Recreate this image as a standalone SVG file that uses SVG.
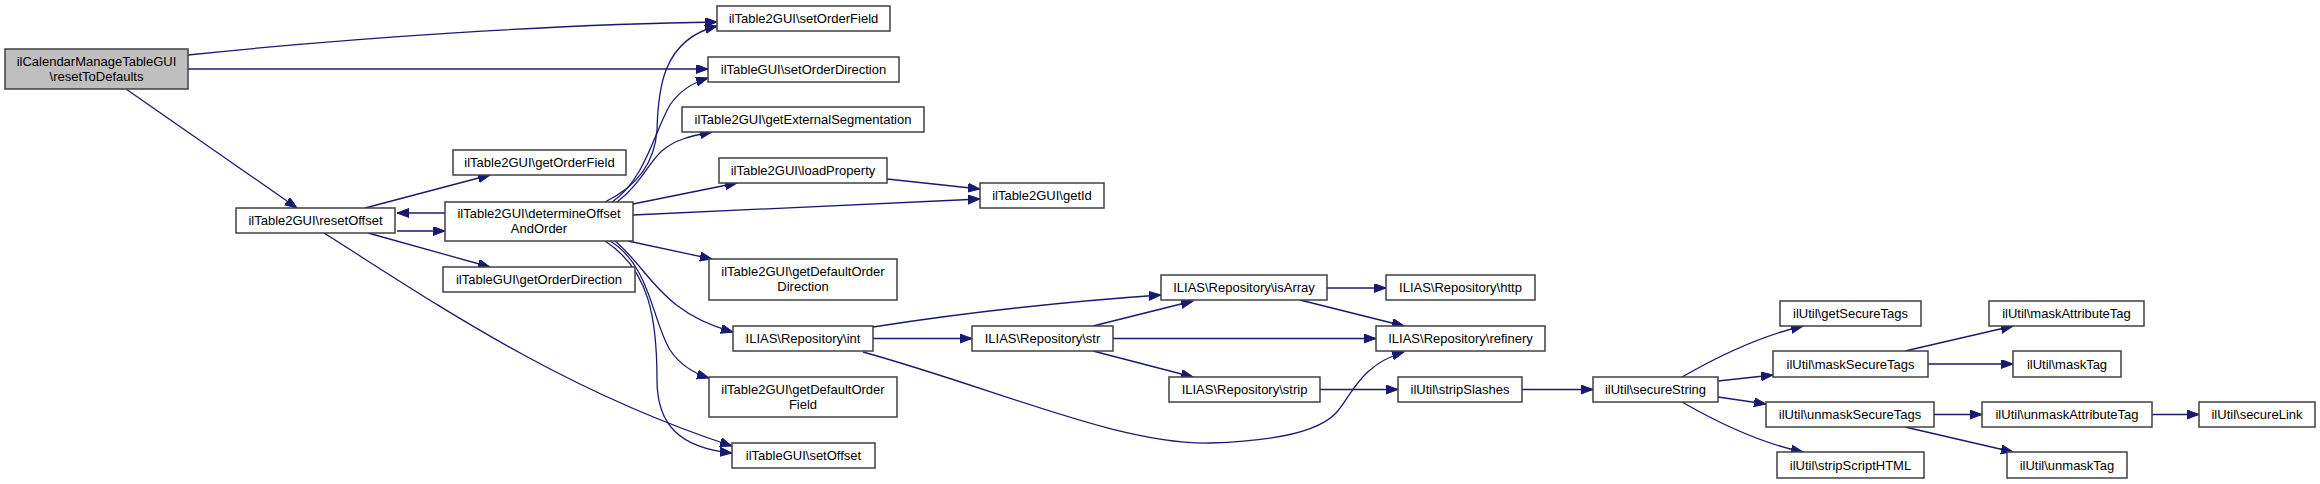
<svg xmlns="http://www.w3.org/2000/svg" width="2320" height="484" viewBox="0 0 2320 484">
<style>
.n rect{fill:#ffffff;stroke:#404040;stroke-width:1.5}
.n text{font-family:"Liberation Sans",Arial,Helvetica,sans-serif;font-size:13px;fill:#000;text-anchor:middle}
#root rect{fill:#bfbfbf}
.e path{fill:none;stroke:#191970;stroke-width:1.3;marker-end:url(#a)}
</style>
<defs>
<marker id="a" markerUnits="userSpaceOnUse" markerWidth="13" markerHeight="10" refX="12" refY="4.5" orient="auto">
<path d="M0,0 L12,4.5 L0,9 z" fill="#191970" stroke="#191970" stroke-width="1"/>
</marker>
</defs>
<rect width="2320" height="484" fill="#ffffff"/>
<g id="edges" class="e">
<path d="M188,55 C350,38 560,24 717,22"/>
<path d="M188,69 L708,69"/>
<path d="M126,89 L297,208"/>
<path d="M365,208 L490,175"/>
<path d="M445,213 L397,213"/>
<path d="M397,231 L445,231"/>
<path d="M368,233 L490,267"/>
<path d="M324,233 C430,300 560,390 732,446"/>
<path d="M605,202 C640,185 655,160 657,130 C658,90 662,40 717,26"/>
<path d="M612,202 C645,180 655,130 670,105 C680,90 695,82 708,78"/>
<path d="M617,202 C640,185 650,160 663,150 C675,140 690,136 712,132"/>
<path d="M633,204 L737,183"/>
<path d="M633,215 L980,199"/>
<path d="M887,179 L980,189"/>
<path d="M628,241 L712,259"/>
<path d="M615,241 C650,270 660,312 733,332"/>
<path d="M610,241 C650,265 652,320 670,350 C680,365 693,373 709,378"/>
<path d="M605,241 C650,270 657,320 657,380 C657,425 680,448 732,453"/>
<path d="M873,338.5 L972,338.5"/>
<path d="M873,327 C950,315 1060,302 1161,295"/>
<path d="M863,352 C1000,390 1120,445 1210,443 C1280,441 1320,430 1336,413 C1352,395 1360,365 1404,352"/>
<path d="M1093,326 L1193,301"/>
<path d="M1113,338.5 L1376,338.5"/>
<path d="M1093,351 L1193,377"/>
<path d="M1327,288 L1386,288"/>
<path d="M1300,300 L1404,326"/>
<path d="M1320,389.5 L1398,389.5"/>
<path d="M1522,389.5 L1593,389.5"/>
<path d="M1682,377 C1715,358 1760,336 1803,326"/>
<path d="M1718,381 L1773,375"/>
<path d="M1718,397 L1766,404"/>
<path d="M1682,402 C1715,421 1760,443 1803,452"/>
<path d="M1905,351 L2013,326"/>
<path d="M1928,364 L2013,364"/>
<path d="M1934,414.5 L1982,414.5"/>
<path d="M1905,427 L2013,452"/>
<path d="M2152,414.5 L2199,414.5"/>
</g>
<g id="root" class="n"><rect x="5" y="49" width="183" height="40"/><text x="96.5" y="65.5">ilCalendarManageTableGUI</text><text x="96.5" y="80.5">\resetToDefaults</text></g>
<g id="resetOffset" class="n"><rect x="236" y="208" width="159" height="25"/><text x="315.5" y="225">ilTable2GUI\resetOffset</text></g>
<g id="getOrderField" class="n"><rect x="453" y="150" width="173" height="25"/><text x="539.5" y="167">ilTable2GUI\getOrderField</text></g>
<g id="determineOffsetAndOrder" class="n"><rect x="445" y="202" width="188" height="39"/><text x="539" y="217.5">ilTable2GUI\determineOffset</text><text x="539" y="232.5">AndOrder</text></g>
<g id="getOrderDirection" class="n"><rect x="443" y="267" width="192" height="25"/><text x="539" y="284">ilTableGUI\getOrderDirection</text></g>
<g id="setOrderField" class="n"><rect x="717" y="6" width="173" height="25"/><text x="803.5" y="23">ilTable2GUI\setOrderField</text></g>
<g id="setOrderDirection" class="n"><rect x="708" y="57" width="191" height="25"/><text x="803.5" y="74">ilTableGUI\setOrderDirection</text></g>
<g id="getExternalSegmentation" class="n"><rect x="682" y="107" width="242" height="25"/><text x="803" y="124">ilTable2GUI\getExternalSegmentation</text></g>
<g id="loadProperty" class="n"><rect x="719" y="158" width="168" height="25"/><text x="803" y="175">ilTable2GUI\loadProperty</text></g>
<g id="getId" class="n"><rect x="980" y="183" width="124" height="25"/><text x="1042" y="200">ilTable2GUI\getId</text></g>
<g id="getDefaultOrderDirection" class="n"><rect x="709" y="259" width="188" height="41"/><text x="803" y="276">ilTable2GUI\getDefaultOrder</text><text x="803" y="291">Direction</text></g>
<g id="int" class="n"><rect x="733" y="326" width="140" height="25"/><text x="803" y="343">ILIAS\Repository\int</text></g>
<g id="getDefaultOrderField" class="n"><rect x="709" y="377" width="188" height="40"/><text x="803" y="393.5">ilTable2GUI\getDefaultOrder</text><text x="803" y="408.5">Field</text></g>
<g id="setOffset" class="n"><rect x="732" y="443" width="143" height="25"/><text x="803.5" y="460">ilTableGUI\setOffset</text></g>
<g id="str" class="n"><rect x="972" y="326" width="141" height="25"/><text x="1042.5" y="343">ILIAS\Repository\str</text></g>
<g id="isArray" class="n"><rect x="1161" y="275" width="166" height="25"/><text x="1244" y="292">ILIAS\Repository\isArray</text></g>
<g id="http" class="n"><rect x="1386" y="275" width="149" height="25"/><text x="1460.5" y="292">ILIAS\Repository\http</text></g>
<g id="refinery" class="n"><rect x="1376" y="326" width="169" height="25"/><text x="1460.5" y="343">ILIAS\Repository\refinery</text></g>
<g id="strip" class="n"><rect x="1169" y="377" width="151" height="25"/><text x="1244.5" y="394">ILIAS\Repository\strip</text></g>
<g id="stripSlashes" class="n"><rect x="1398" y="377" width="124" height="25"/><text x="1460" y="394">ilUtil\stripSlashes</text></g>
<g id="secureString" class="n"><rect x="1593" y="377" width="125" height="25"/><text x="1655.5" y="394">ilUtil\secureString</text></g>
<g id="getSecureTags" class="n"><rect x="1780" y="301" width="141" height="25"/><text x="1850.5" y="318">ilUtil\getSecureTags</text></g>
<g id="maskSecureTags" class="n"><rect x="1773" y="351" width="155" height="26"/><text x="1850.5" y="368.5">ilUtil\maskSecureTags</text></g>
<g id="unmaskSecureTags" class="n"><rect x="1766" y="402" width="168" height="25"/><text x="1850" y="419">ilUtil\unmaskSecureTags</text></g>
<g id="stripScriptHTML" class="n"><rect x="1777" y="452" width="147" height="26"/><text x="1850.5" y="469.5">ilUtil\stripScriptHTML</text></g>
<g id="maskAttributeTag" class="n"><rect x="1989" y="301" width="155" height="25"/><text x="2066.5" y="318">ilUtil\maskAttributeTag</text></g>
<g id="maskTag" class="n"><rect x="2013" y="351" width="108" height="26"/><text x="2067" y="368.5">ilUtil\maskTag</text></g>
<g id="unmaskAttributeTag" class="n"><rect x="1982" y="402" width="170" height="25"/><text x="2067" y="419">ilUtil\unmaskAttributeTag</text></g>
<g id="secureLink" class="n"><rect x="2199" y="402" width="116" height="25"/><text x="2257" y="419">ilUtil\secureLink</text></g>
<g id="unmaskTag" class="n"><rect x="2007" y="452" width="120" height="26"/><text x="2067" y="469.5">ilUtil\unmaskTag</text></g>
</svg>
